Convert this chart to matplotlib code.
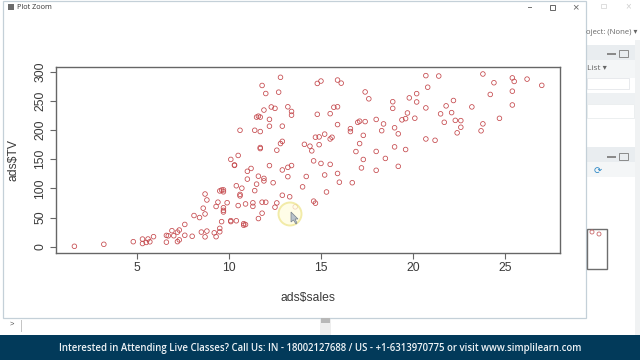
import matplotlib
matplotlib.use("Agg")
import matplotlib.pyplot as plt
from matplotlib.patches import Rectangle, Circle, Polygon

sales = [22.1,10.4,9.3,18.5,12.9,7.2,11.8,13.2,4.8,10.6,8.6,17.4,9.2,9.7,19,22.4,12.5,24.4,11.3,14.6,18,12.5,5.6,15.5,9.7,12,15,15.9,18.9,10.5,21.4,11.9,9.6,17.4,9.5,12.8,25.4,14.7,10.1,21.5,16.6,17.1,20.7,12.9,8.5,14.9,10.6,23.2,14.8,9.7,11.4,10.7,22.6,21.2,20.2,23.7,5.5,13.2,23.8,18.4,8.1,24.2,15.7,14,18,9.3,9.5,13.4,18.9,22.3,18.3,12.4,8.8,11,17,8.7,6.9,14.2,5.3,11,11.8,12.3,11.3,13.6,21.7,15.2,12,16,12.9,16.7,11.2,7.3,19.4,22.2,11.5,16.9,11.7,15.5,25.4,17.2,11.7,23.8,14.8,14.7,20.7,19.2,7.2,8.7,5.3,19.8,13.4,21.8,14.1,15.9,14.6,12.6,12.2,9.4,15.9,6.6,15.5,7,11.6,15.2,19.7,10.6,6.6,8.8,24.7,9.7,1.6,12.7,5.7,19.6,10.8,11.6,9.5,20.8,9.6,20.7,10.9,19.2,20.1,10.4,11.4,10.3,13.2,25.4,10.9,10.1,16.1,11.6,16.6,19,15.6,3.2,15.3,10.1,7.3,12.9,14.4,13.3,14.9,18,11.9,11.9,8,12.2,17.1,15,8.4,14.5,7.6,11.7,11.5,27,20.2,11.7,11.8,12.6,10.5,12.2,8.7,26.2,17.6,22.6,10.3,17.3,15.9,6.7,10.8,9.9,5.9,19.6,17.3,7.6,9.7,12.8,25.5,13.4]
tv = [230.1,44.5,17.2,151.5,180.8,8.7,57.5,120.2,8.6,199.8,66.1,214.7,23.8,97.5,204.1,195.4,67.8,281.4,69.2,147.3,218.4,237.4,13.2,228.3,62.3,262.9,142.9,240.1,248.8,70.6,292.9,112.9,97.2,265.6,95.7,290.7,266.9,74.7,43.1,228,202.5,177,293.6,206.9,25.1,175.1,89.7,239.9,227.2,66.9,199.8,100.4,216.4,182.6,262.7,198.9,7.3,136.2,210.8,210.7,53.5,261.3,239.3,102.7,131.1,69,31.5,139.3,237.4,216.8,199.1,109.8,26.8,129.4,213.4,16.9,27.5,120.5,5.4,116,76.4,239.8,75.3,68.4,213.5,193.2,76.3,110.7,88.3,109.8,134.3,28.6,217.7,250.9,107.4,163.3,197.6,184.9,289.7,135.2,222.4,296.4,280.2,187.9,238.2,137.9,25,90.4,13.1,255.4,225.8,241.7,175.7,209.6,78.2,75.1,139.2,76.4,125.7,19.4,141.3,18.8,224,123.1,229.5,87.2,7.8,80.2,220.3,59.6,0.7,265.2,8.4,219.8,36.9,48.3,25.6,273.7,43,184.9,73.4,193.7,220.5,104.6,96.2,140.3,240.1,243.2,38,44.7,280.7,121,197.6,171.3,187.8,4.1,93.9,149.8,11.7,131.7,172.5,85.7,188.4,163.5,117.2,234.5,17.9,206.8,215.4,284.3,50,164.5,19.6,168.4,222.4,276.9,248.4,170.2,276.7,165.6,156.6,218.5,56.2,287.6,253.8,205,139.5,191.1,286,18.7,39.5,75.5,17.2,166.8,149.7,38.2,94.2,177,283.6,232.1]
x_ticks = [5, 10, 15, 20, 25]
y_ticks = [0, 50, 100, 150, 200, 250, 300]
x_title = "ads$sales"
y_title = "ads$TV"
banner_text = "Interested in Attending Live Classes? Call Us: IN - 18002127688 / US - +1-6313970775 or visit www.simplilearn.com"

plt.rcParams['font.family'] = ['Liberation Sans', 'DejaVu Sans']
W, H = 640, 360
fig = plt.figure(figsize=(6.4, 3.6), dpi=100, facecolor='#f6f7f8')

# screenshot chrome in pixel coordinates
bg = fig.add_axes([0, 0, 1, 1], zorder=0)
bg.set_xlim(0, W); bg.set_ylim(H, 0); bg.axis('off')
def rect(x0, y0, x1, y1, fc, ec='none', lw=0, z=1):
    bg.add_patch(Rectangle((x0, y0), x1-x0, y1-y0, fc=fc, ec=ec, lw=lw, zorder=z))

rect(0, 0, 640, 335, '#ffffff')
rect(586, 0, 640, 335, '#ffffff')
rect(587, 45, 635, 60, '#e9edf0')
rect(587, 60, 635, 78, '#f4f6f7')
rect(587, 78, 629, 89, '#ffffff', '#e4e7ea', 0.6, 2)
rect(587, 93, 635, 104, '#eef1f3')
rect(587, 104, 634, 118, '#ffffff', '#e9ecee', 0.6, 2)
rect(587, 147, 635, 162, '#e9edf0')
rect(587, 162, 635, 177, '#f4f6f7')
rect(635, 40, 640, 335, '#f0f2f3')
rect(587, 229, 607, 269, '#ffffff', '#6e6e6e', 1.0, 3)
for px, py in [(592, 232), (599, 234)]:
    bg.add_patch(Circle((px, py), 2, fc='none', ec='#c9686a', lw=0.6, zorder=4))
bg.text(586.5, 33, "oject: (None) ▾", fontsize=5.6, color='#666666', va='center', zorder=3,
        family=['Open Sans', 'DejaVu Sans'])
bg.text(587, 68.5, "List ▾", fontsize=6, color='#666666', va='center', zorder=3,
        family=['Open Sans', 'DejaVu Sans'])
bg.text(598, 171, "⟳", fontsize=7, color='#2a86c5', va='center', ha='center', zorder=3,
        family=['DejaVu Sans'])
for py in (54, 157):
    rect(607, py-1, 616, py+1, '#8a8a8a', z=3)
    rect(619, py-4, 628, py+3, 'none', '#8a8a8a', 0.7, 3)
rect(601, 4, 606, 8, 'none', '#d8d8d8', 0.6, 3)
bg.text(628, 6, "×", fontsize=7, color='#d0d0d0', ha='center', va='center', zorder=3)

# plot window
rect(3, 1, 586, 318, '#ffffff', '#c4d0d8', 0.9, 2)
rect(8, 4, 14, 10, '#6c6c6c', z=3)
bg.text(17, 7.5, "Plot Zoom", fontsize=5.2, color='#333333', va='center', zorder=3,
        family=['Open Sans', 'DejaVu Sans'])
rect(528, 7, 532, 7.6, '#777777', z=3)
rect(550, 4.5, 555, 9.5, 'none', '#666666', 0.7, 3)
bg.text(575, 7, "×", fontsize=8, color='#666666', ha='center', va='center', zorder=3)

# console strip and banner
rect(320, 318, 331, 335, '#eeeeee')
rect(321, 318, 330, 323, '#b8b8b8', z=2)
bg.text(12, 324, ">", fontsize=5.5, color='#555555', ha='center', va='center', zorder=2)
rect(21, 320, 21.6, 332, '#c5c5c5', z=2)
rect(0, 335, 640, 360, '#023a5a', z=5)
bg.text(320, 348, banner_text, fontsize=6.95, color='#eef3f6', ha='center', va='center',
        fontweight='semibold', zorder=6, family=['Open Sans', 'DejaVu Sans'])

# the scatter plot
ax = fig.add_axes([56/W, 1-252.7/H, (560-56)/W, (252.7-67)/H], zorder=2)
ax.patch.set_alpha(0)
ax.scatter(sales, tv, s=11, facecolors='none', edgecolors='#c4474b', linewidths=0.55, zorder=3)
ax.set_xlim(0.6, 27.99)
ax.set_ylim(-10.3, 308.4)
ax.set_xticks(x_ticks)
ax.set_yticks(y_ticks)
ax.tick_params(axis='both', length=4, width=0.8, color='#666666', labelcolor='#3a3a3a',
               labelsize=8.7, pad=3)
for t in ax.get_yticklabels():
    t.set_rotation(90); t.set_va('center')
for s in ax.spines.values():
    s.set_color('#666666'); s.set_linewidth(1.0)
fig.text(308/W, 1-298/H, x_title, fontsize=8.7, color='#3a3a3a', ha='center', va='center', zorder=4)
fig.text(13/W, 1-160/H, y_title, fontsize=8.7, color='#3a3a3a', ha='center', va='center',
         rotation=90, zorder=4)

# presenter's cursor highlight
ov = fig.add_axes([0, 0, 1, 1], zorder=3)
ov.set_xlim(0, W); ov.set_ylim(H, 0); ov.axis('off'); ov.patch.set_alpha(0)
ov.add_patch(Circle((290, 214), 11.5, fc='#fffde0', ec='#eee58f', lw=1.4, alpha=0.75))
ov.add_patch(Polygon([(291, 212), (291, 222), (293.5, 220), (296, 224), (297, 223), (295, 219), (298, 219)],
                     closed=True, fc='#b9c3cc', ec='#77818a', lw=0.5))
fig.savefig("out.png", dpi=100)
